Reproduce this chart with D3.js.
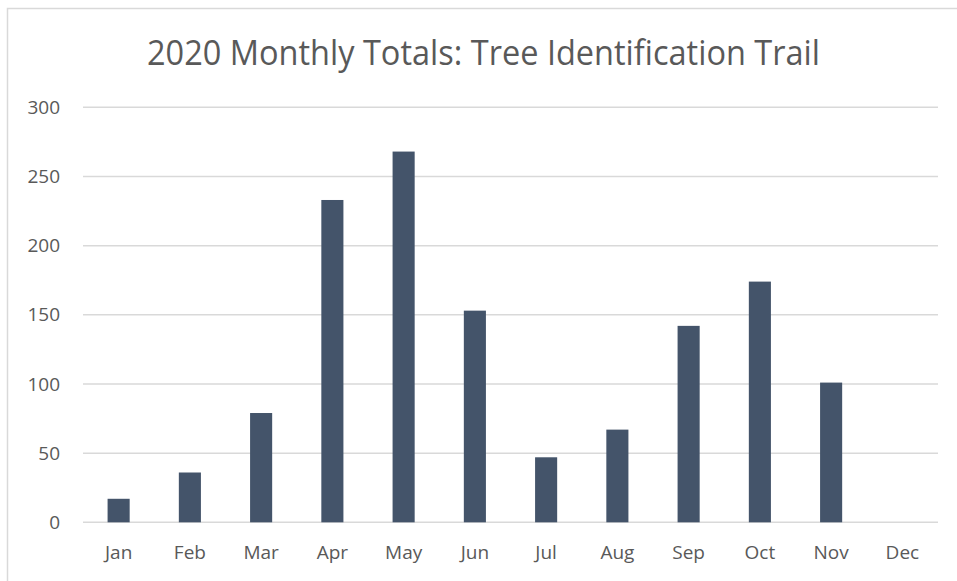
<!DOCTYPE html>
<html>
<head>
<meta charset="utf-8">
<script src="https://cdn.jsdelivr.net/npm/d3@7"></script>
<style>
  body { margin: 0; background: #fff; }
  text { font-family: "Open Sans", "Noto Sans", sans-serif; fill: #595959; }
</style>
</head>
<body>
<div id="chart"></div>
<script>
// chart data
var months = ["Jan", "Feb", "Mar", "Apr", "May", "Jun", "Jul", "Aug", "Sep", "Oct", "Nov", "Dec"];
var totals = [17, 36, 79, 233, 268, 153, 47, 67, 142, 174, 101, 0];
var yTicks = [0, 50, 100, 150, 200, 250, 300];
var title = "2020 Monthly Totals: Tree Identification Trail";

var width = 957,
    height = 581;

var svg = d3.select("#chart")
    .append("svg")
    .attr("width", width)
    .attr("height", height);

// chart area border (runs off the right / bottom edge)
svg.append("rect")
    .attr("x", 7.5)
    .attr("y", 8.5)
    .attr("width", 1000)
    .attr("height", 700)
    .attr("fill", "none")
    .attr("stroke", "#d9d9d9")
    .attr("stroke-width", 1.5);

// plot area
var plotLeft = 83, plotRight = 938, plotTop = 107.3, plotBottom = 522.3;

var x = d3.scaleBand()
    .domain(months)
    .range([plotLeft, plotRight])
    .paddingInner(0.69)
    .paddingOuter(0.345);

var y = d3.scaleLinear()
    .domain([0, 300])
    .range([plotBottom, plotTop]);

// gridlines
svg.selectAll(".grid")
    .data(yTicks)
    .enter()
    .append("line")
    .attr("class", "grid")
    .attr("x1", plotLeft)
    .attr("x2", plotRight)
    .attr("y1", function(d){ return y(d); })
    .attr("y2", function(d){ return y(d); })
    .attr("stroke", "#d9d9d9")
    .attr("stroke-width", 1.5);

// y axis labels
var yAxis = d3.axisLeft(y)
    .tickValues(yTicks)
    .tickSize(0)
    .tickPadding(23);

var yG = svg.append("g")
    .attr("transform", "translate(" + plotLeft + ",0)")
    .call(yAxis);
yG.select(".domain").remove();
yG.selectAll("text")
    .style("font-size", "19px")
    .attr("fill", "#595959");

// bars
svg.selectAll(".bar")
    .data(totals)
    .enter()
    .append("rect")
    .attr("class", "bar")
    .attr("x", function(d, i){ return x(months[i]); })
    .attr("width", x.bandwidth())
    .attr("y", function(d){ return y(d); })
    .attr("height", function(d){ return y(0) - y(d); })
    .attr("fill", "#44546a");

// x axis labels
var xAxis = d3.axisBottom(x)
    .tickSize(0)
    .tickPadding(23);

var xG = svg.append("g")
    .attr("transform", "translate(0," + plotBottom + ")")
    .call(xAxis);
xG.select(".domain").remove();
xG.selectAll("text")
    .style("font-size", "19px")
    .attr("fill", "#595959");

// title
svg.append("text")
    .attr("x", 483.5)
    .attr("y", 64.5)
    .attr("text-anchor", "middle")
    .style("font-size", "34px")
    .attr("textLength", 673)
    .attr("lengthAdjust", "spacingAndGlyphs")
    .text(title);
</script>
</body>
</html>
